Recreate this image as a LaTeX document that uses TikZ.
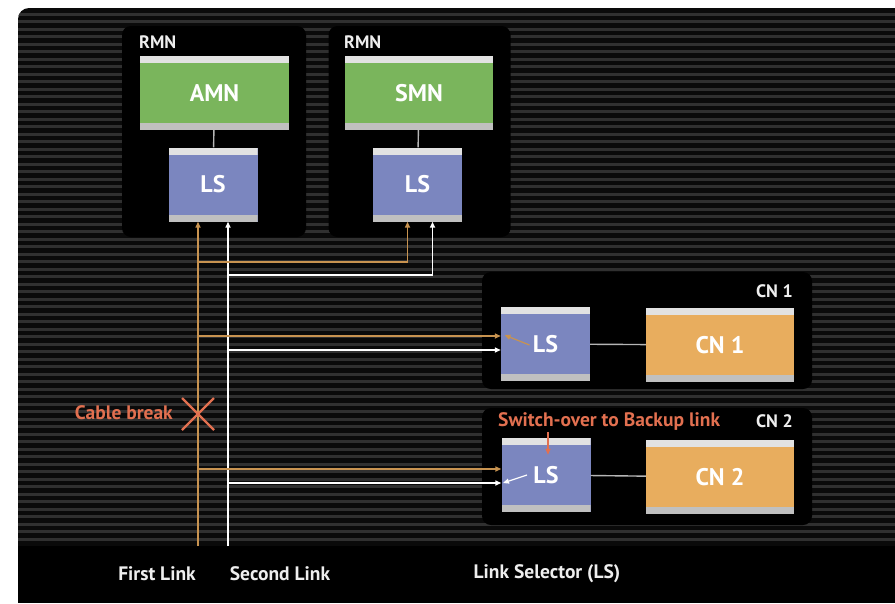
\documentclass[tikz,border=0pt]{standalone}
\usepackage{fontspec}
\setmainfont{PT Sans}
\usetikzlibrary{arrows.meta,positioning}
\definecolor{stripegray}{RGB}{48,48,48}
\definecolor{stripedark}{RGB}{10,10,10}
\definecolor{mgrgreen}{RGB}{122,181,92}
\definecolor{selblue}{RGB}{123,134,191}
\definecolor{cnorange}{RGB}{232,173,94}
\definecolor{barwhite}{RGB}{226,226,226}
\definecolor{firstcol}{RGB}{200,147,80}
\definecolor{alertcol}{RGB}{226,112,80}
\definecolor{labelcol}{RGB}{238,238,238}
\begin{document}
\begin{tikzpicture}[x=1pt, y=-1pt,
    panel/.style = {fill=black, rounded corners=9pt, inner sep=0},
    tag/.style = {text=labelcol, font=\bfseries\fontsize{18}{20}\selectfont, inner sep=0},
    unit/.style = {inner sep=0, text=white, font=\bfseries\fontsize{24}{26}\selectfont,
                   path picture={
                     \fill[barwhite] (path picture bounding box.north west) rectangle ([yshift=-7pt]path picture bounding box.north east);
                     \fill[barwhite!85!black] (path picture bounding box.south west) rectangle ([yshift=7pt]path picture bounding box.south east);
                   }},
    mgr/.style = {unit, fill=mgrgreen, minimum width=149, minimum height=74},
    sel/.style = {unit, fill=selblue, minimum width=89, minimum height=74},
    cn/.style = {unit, fill=cnorange, minimum width=148, minimum height=74},
    wire/.style = {draw=barwhite!80!black, line width=1.4pt},
    firstlink/.style = {draw=firstcol, line width=1.6pt, -{Triangle[length=6pt,width=5pt]}},
    secondlink/.style = {draw=white, line width=1.6pt, -{Triangle[length=6pt,width=5pt]}},
    alert/.style = {text=alertcol, font=\bfseries\fontsize{19.5}{21}\selectfont, inner sep=0},
    legend/.style = {text=labelcol, font=\bfseries\fontsize{19.5}{21}\selectfont, inner sep=0}
  ]
\useasboundingbox (0,0) rectangle (895,603);
\fill[white] (0,0) rectangle (895,603);

% striped background
\begin{scope}
  \clip[rounded corners=11pt] (18,8) rectangle (950,660);
  \fill[stripedark] (18,8) rectangle (895,603);
  \foreach \y in {12.5,20,...,542} {
    \fill[stripegray] (18,\y) rectangle (895,\y+3.2);
  }
  \fill[black] (18,546) rectangle (895,603);
\end{scope}

% main nodes
\node[panel, minimum width=184, minimum height=211] (rmnA) at (214,131.5) {};
\node[tag, anchor=west] (rmnAtag) at (139,42) {RMN};
\node[mgr] (amn) at (214.5,93) {AMN};
\node[sel] (lsA) at (213,184.5) {LS};
\draw[wire] (amn) -- (lsA);

\node[panel, minimum width=182, minimum height=211] (rmnB) at (419.5,131.5) {};
\node[tag, anchor=west] (rmnBtag) at (344,42) {RMN};
\node[mgr, minimum width=148] (smn) at (419,93) {SMN};
\node[sel] (lsB) at (417.5,184.5) {LS};
\draw[wire] (smn) -- (lsB);

% controlled nodes
\node[panel, minimum width=330, minimum height=117] (cnpA) at (647,330.5) {};
\node[tag, anchor=east] (cnAtag) at (793,291) {CN 1};
\node[sel] (lsC) at (545.5,344) {LS};
\node[cn] (cnA) at (720,345) {CN 1};
\draw[wire] (lsC) -- (cnA);

\node[panel, minimum width=330, minimum height=117] (cnpB) at (647,466.5) {};
\node[tag, anchor=east] (cnBtag) at (793,421) {CN 2};
\node[alert, anchor=west] (switch) at (498,421) {Switch-over to Backup link};
\node[sel] (lsD) at (546,475) {LS};
\node[cn] (cnB) at (720,477) {CN 2};
\draw[wire] (lsD) -- (cnB);

% links
\coordinate (first) at (198,546);
\coordinate (second) at (228,546);
\coordinate (jB1) at (198,262);
\coordinate (jB2) at (228,275);
\coordinate (jC1) at (198,336);
\coordinate (jC2) at (228,350);
\coordinate (jD1) at (198,469);
\coordinate (jD2) at (228,483);

\draw[firstlink] (first) -- (first |- lsA.south);
\draw[secondlink] (second) -- (second |- lsA.south);
\draw[firstlink] (jB1) -| ([xshift=-10pt]lsB.south);
\draw[secondlink] (jB2) -| ([xshift=15pt]lsB.south);
\draw[firstlink] (jC1) -- (jC1 -| lsC.west);
\draw[secondlink] (jC2) -- (jC2 -| lsC.west);
\draw[firstlink] (jD1) -- (jD1 -| lsD.west);
\draw[secondlink] (jD2) -- (jD2 -| lsD.west);

% selector states
\draw[firstlink, line width=1.2pt] ([shift={(-16,1)}]lsC.center) -- ([shift={(-41,-9)}]lsC.center);
\draw[secondlink, line width=1.2pt] ([shift={(-19,0)}]lsD.center) -- ([shift={(-43,8)}]lsD.center);
\draw[draw=alertcol, line width=1.6pt, -{Triangle[length=6pt,width=5pt]}] ([shift={(2,-6)}]lsD.north) -- ([shift={(2,17)}]lsD.north);

% cable break
\coordinate (brk) at (198,414);
\draw[alertcol, line width=2.4pt] ([shift={(-16,-16)}]brk) -- ([shift={(16,16)}]brk);
\draw[alertcol, line width=2.4pt] ([shift={(-16,16)}]brk) -- ([shift={(16,-16)}]brk);
\node[alert, anchor=east] (brktext) at (173,413) {Cable break};

% legend
\node[legend] (firsttext) at (157,574) {First Link};
\node[legend] (secondtext) at (280,574) {Second Link};
\node[legend] (lstext) at (547,574) {Link Selector (LS)};
\end{tikzpicture}
\end{document}
